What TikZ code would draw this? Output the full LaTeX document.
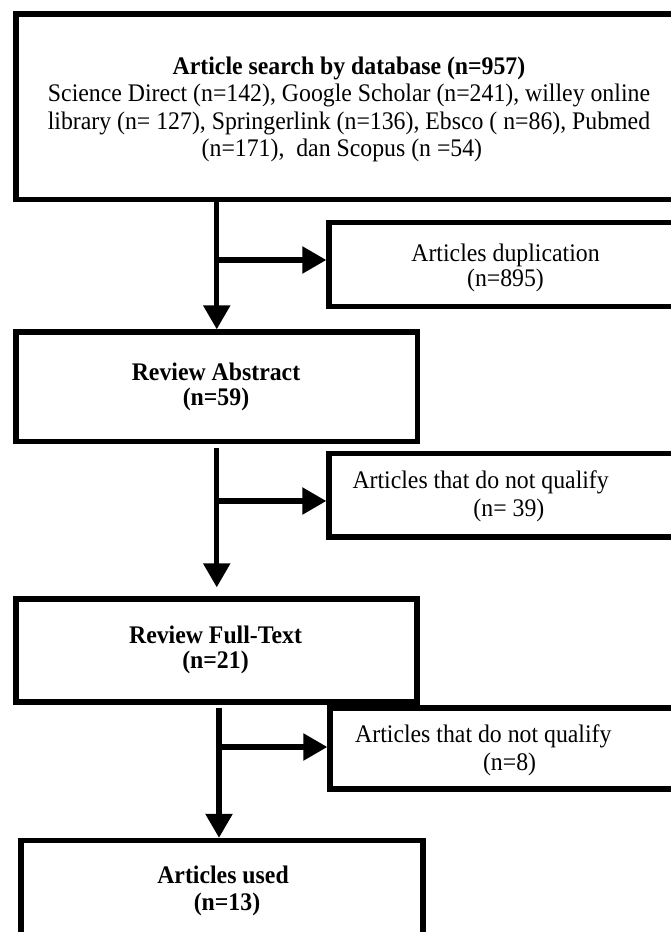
\documentclass[tikz,border=0pt]{standalone}
\usepackage{fontspec}
\usepackage{graphicx}
\setmainfont{Liberation Serif}
\usetikzlibrary{arrows.meta}
\newcommand{\sqtext}[2]{\scalebox{0.94}[1]{\begin{tabular}[t]{@{}#1@{}}#2\end{tabular}}}
\begin{document}
\begin{tikzpicture}[x=1pt,y=-1pt,
  box/.style={draw, line width=5.3pt, inner sep=0pt, rectangle},
  txt/.style={inner sep=0pt, anchor=base},
  arr/.style={line width=5.3pt, -{Triangle[length=24pt,width=26pt]}}]
\useasboundingbox (0,0) rectangle (671,932);
\clip (0,0) rectangle (671,932);
% boxes
\node[box, minimum width=684pt, minimum height=185.5pt] (top) at (358,106.75) {};
\node[box, minimum width=371pt, minimum height=84pt] (dup) at (514.5,264.5) {};
\node[box, minimum width=401.5pt, minimum height=109.5pt] (ra) at (216.75,386.75) {};
\node[box, minimum width=371pt, minimum height=83.5pt] (q1) at (514.5,495.25) {};
\node[box, minimum width=401pt, minimum height=103pt] (ft) at (216.5,650.5) {};
\node[box, minimum width=370pt, minimum height=81pt] (q2) at (515,748.5) {};
\node[box, minimum width=402pt, minimum height=119.5pt] (au) at (222,900.25) {};
% texts
\node[txt, font=\fontsize{25.3}{27.5}\selectfont] (ttop) at (349,74)
  {\sqtext{c}{\textbf{Article search by database (n=957)}\\
   Science Direct (n=142), Google Scholar (n=241), willey online\\
   library (n= 127), Springerlink (n=136), Ebsco ( n=86), Pubmed\\
   (n=171),~~dan Scopus (n =54)\hspace*{15pt}}};
\node[txt, font=\fontsize{25.3}{24.5}\selectfont] (tdup) at (505.5,261.5)
  {\sqtext{c}{Articles duplication\\(n=895)}};
\node[txt, font=\bfseries\fontsize{25.3}{25.5}\selectfont] (tra) at (216,380)
  {\sqtext{c}{Review Abstract\\(n=59)}};
\node[txt, anchor=base west, font=\fontsize{25.3}{28.5}\selectfont] (tq1) at (352.3,488.3)
  {\sqtext{l}{Articles that do not qualify\\\hspace*{128.7pt}(n= 39)}};
\node[txt, font=\bfseries\fontsize{25.3}{25.5}\selectfont] (tft) at (215.5,643)
  {\sqtext{c}{Review Full-Text\\(n=21)}};
\node[txt, anchor=base west, font=\fontsize{25.3}{28.5}\selectfont] (tq2) at (355,742)
  {\sqtext{l}{Articles that do not qualify\\\hspace*{136pt}(n=8)}};
\node[txt, font=\bfseries\fontsize{25.3}{27}\selectfont] (tau) at (223,883)
  {\sqtext{c}{Articles used\\\hspace*{8.5pt}(n=13)}};
% connectors
\draw[arr] (top.south -| ra.north) -- (ra.north);
\coordinate (b1) at (216.75,260);
\draw[arr] (b1) -- (b1 -| dup.west);
\draw[arr, shorten <=4pt, shorten >=9pt] (ra.south) -- (ra.south |- ft.north);
\coordinate (b2) at (216.75,501);
\draw[arr] (b2) -- (b2 -| q1.west);
\coordinate (v3) at (219,0);
\draw[arr, shorten <=3pt] (ft.south -| v3) -- (au.north -| v3);
\coordinate (b3) at (219,747);
\draw[arr] (b3) -- (b3 -| q2.west);
\end{tikzpicture}
\end{document}
